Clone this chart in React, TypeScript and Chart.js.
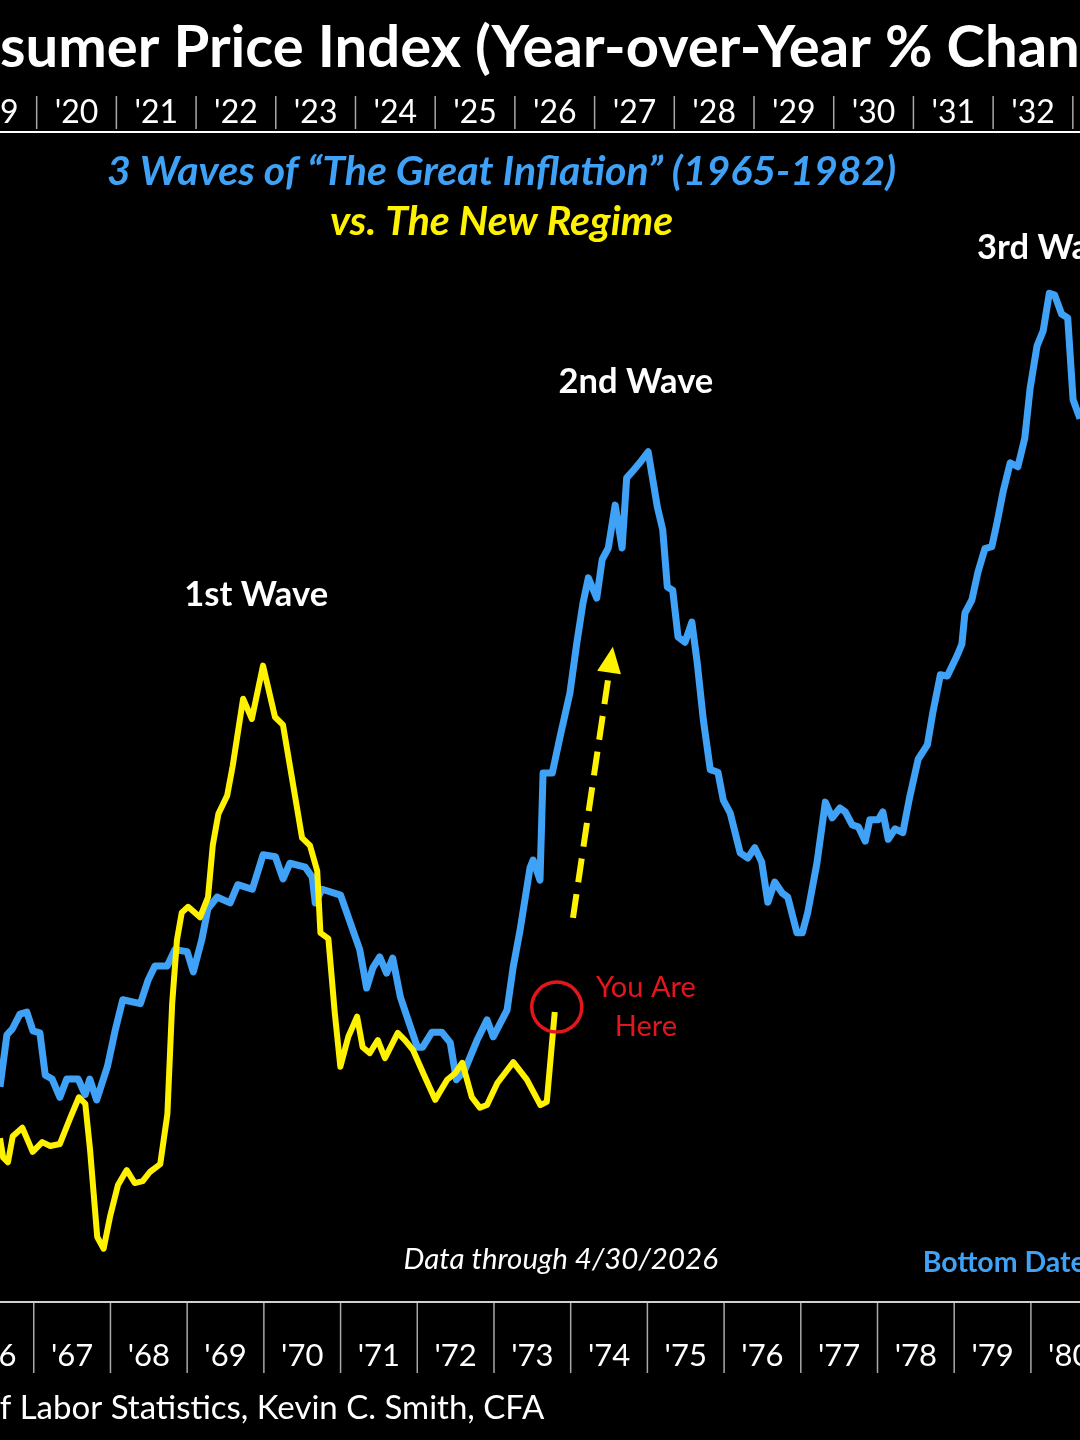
import { useEffect, useRef } from 'react'
import { Chart, registerables, Plugin } from 'chart.js'

Chart.register(...registerables)

// CPI year-over-year %, 1966-1980 (bottom axis)
const greatInflationDates = [
  1966.56, 1966.65, 1966.72, 1966.82, 1966.91, 1966.99, 1967.08, 1967.15, 1967.24, 1967.34,
  1967.43, 1967.58, 1967.67, 1967.73, 1967.82, 1967.96, 1968.06, 1968.16, 1968.39, 1968.49,
  1968.58, 1968.74, 1968.84, 1969.0, 1969.08, 1969.19, 1969.27, 1969.39, 1969.56, 1969.66,
  1969.85, 1969.99, 1970.15, 1970.25, 1970.34, 1970.54, 1970.63, 1970.67, 1970.76, 1971.0,
  1971.25, 1971.34, 1971.42, 1971.51, 1971.6, 1971.68, 1971.78, 1971.88, 1972.0, 1972.07,
  1972.19, 1972.32, 1972.43, 1972.51, 1972.62, 1972.78, 1972.91, 1972.99, 1973.17, 1973.25,
  1973.34, 1973.47, 1973.51, 1973.6, 1973.64, 1973.76, 1973.86, 1973.99, 1974.08, 1974.16,
  1974.23, 1974.34, 1974.41, 1974.49, 1974.58, 1974.67, 1974.73, 1974.8, 1974.9, 1975.01,
  1975.13, 1975.2, 1975.26, 1975.33, 1975.4, 1975.49, 1975.58, 1975.65, 1975.73, 1975.82,
  1975.92, 1975.99, 1976.08, 1976.21, 1976.31, 1976.4, 1976.49, 1976.57, 1976.66, 1976.76,
  1976.83, 1976.95, 1977.02, 1977.09, 1977.21, 1977.32, 1977.41, 1977.51, 1977.58, 1977.67,
  1977.75, 1977.84, 1977.9, 1978.01, 1978.07, 1978.14, 1978.23, 1978.33, 1978.42, 1978.53,
  1978.65, 1978.72, 1978.82, 1978.91, 1979.04, 1979.1, 1979.14, 1979.23, 1979.31, 1979.4,
  1979.49, 1979.56, 1979.64, 1979.73, 1979.83, 1979.92, 1979.99, 1980.08, 1980.16, 1980.24,
  1980.31, 1980.4, 1980.48, 1980.55, 1980.64,
]
const greatInflationValues = [
  2.54, 3.34, 3.43, 3.66, 3.69, 3.4, 3.37, 2.72, 2.66, 2.38,
  2.66, 2.66, 2.42, 2.66, 2.34, 2.85, 3.4, 3.88, 3.82, 4.18,
  4.4, 4.4, 4.65, 4.62, 4.31, 4.8, 5.28, 5.46, 5.37, 5.65,
  5.58, 6.11, 6.08, 5.74, 5.98, 5.92, 5.77, 5.37, 5.58, 5.49,
  4.65, 4.06, 4.37, 4.54, 4.29, 4.52, 3.92, 3.57, 3.15, 3.15,
  3.38, 3.38, 3.22, 2.65, 2.8, 3.26, 3.57, 3.31, 3.72, 4.38,
  4.95, 5.91, 6.03, 5.72, 7.37, 7.37, 7.92, 8.6, 9.37, 9.98,
  10.37, 10.06, 10.65, 10.83, 11.49, 10.83, 11.91, 12.0, 12.14, 12.31,
  11.46, 11.11, 10.23, 10.18, 9.46, 9.38, 9.69, 9.06, 8.18, 7.42,
  7.38, 6.95, 6.75, 6.14, 6.06, 6.22, 6.0, 5.38, 5.69, 5.52,
  5.46, 4.91, 4.91, 5.22, 5.98, 6.92, 6.68, 6.83, 6.77, 6.57,
  6.54, 6.32, 6.65, 6.65, 6.77, 6.35, 6.51, 6.45, 7.0, 7.58,
  7.8, 8.29, 8.88, 8.86, 9.18, 9.35, 9.83, 10.03, 10.46, 10.82,
  10.85, 11.23, 11.71, 12.14, 12.08, 12.52, 13.29, 13.94, 14.17, 14.75,
  14.72, 14.43, 14.37, 13.11, 12.82,
]

// CPI year-over-year %, 2019-2026 (top axis)
const newRegimeDates = [
  2019.54, 2019.58, 2019.64, 2019.7, 2019.82, 2019.95, 2020.07, 2020.17, 2020.29, 2020.42,
  2020.53, 2020.61, 2020.67, 2020.76, 2020.84, 2020.92, 2021.02, 2021.13, 2021.23, 2021.33,
  2021.42, 2021.55, 2021.64, 2021.7, 2021.76, 2021.82, 2021.9, 2022.05, 2022.15, 2022.21,
  2022.28, 2022.39, 2022.46, 2022.59, 2022.7, 2022.84, 2022.99, 2023.09, 2023.22, 2023.33,
  2023.43, 2023.52, 2023.56, 2023.66, 2023.74, 2023.81, 2023.91, 2024.02, 2024.09, 2024.18,
  2024.28, 2024.37, 2024.53, 2024.62, 2024.72, 2024.85, 2025.0, 2025.15, 2025.25, 2025.34,
  2025.46, 2025.56, 2025.65, 2025.78, 2025.98, 2026.15, 2026.32, 2026.4, 2026.5,
]
const newRegimeValues = [
  1.75, 1.45, 1.38, 1.78, 1.91, 1.54, 1.69, 1.63, 1.66, 2.06,
  2.38, 2.28, 1.57, 0.23, 0.05, 0.54, 1.03, 1.26, 1.06, 1.09,
  1.23, 1.35, 2.12, 3.82, 4.8, 5.22, 5.31, 5.15, 5.46, 6.26,
  6.74, 7.02, 7.48, 8.51, 8.2, 9.02, 8.23, 8.11, 7.17, 6.37,
  6.25, 5.86, 4.91, 4.82, 3.68, 2.85, 3.31, 3.62, 3.15, 3.06,
  3.26, 2.98, 3.37, 3.26, 3.11, 2.75, 2.34, 2.65, 2.75, 2.91,
  2.38, 2.22, 2.26, 2.6, 2.92, 2.65, 2.26, 2.31, 3.69,
]

const bottomAxisYears = [1966, 1967, 1968, 1969, 1970, 1971, 1972, 1973, 1974, 1975, 1976, 1977, 1978, 1979, 1980]
const topAxisYears = [2019, 2020, 2021, 2022, 2023, 2024, 2025, 2026, 2027, 2028, 2029, 2030, 2031, 2032, 2033]

const TITLE = 'Consumer Price Index (Year-over-Year % Change)'
const SOURCE = 'Source: Bureau of Labor Statistics, Kevin C. Smith, CFA'

// text anchored in bottom-axis years / percent
const waveLabels = [
  { text: '1st Wave', year: 1969.9, value: 10.11 },
  { text: '2nd Wave', year: 1974.85, value: 13.38 },
  { text: '3rd Wave', year: 1980.26, value: 15.45 },
]

const BLUE = '#3fa2f6'
const YELLOW = '#fff200'
const RED = '#e3161c'

const shortYear = (v: number) => `'${String(Math.floor(v)).slice(2)}`

const overlayPlugin: Plugin<'line'> = {
  id: 'overlay',
  afterDraw(chart) {
    const { ctx, scales } = chart
    const xb = scales.xBottom
    const xt = scales.xTop
    const y = scales.y
    const w = chart.width
    ctx.save()

    // title, cropped at the left like the original
    ctx.fillStyle = '#fff'
    ctx.textBaseline = 'middle'
    ctx.textAlign = 'left'
    ctx.font = 'bold 58px Lato'
    ctx.fillText(TITLE, -ctx.measureText('Con').width, 48)

    // year separators on both axes
    ctx.strokeStyle = '#a8a8a8'
    ctx.lineWidth = 1.5
    for (let yr = topAxisYears[0]; yr <= topAxisYears[topAxisYears.length - 1] + 1; yr++) {
      const px = xt.getPixelForValue(yr)
      if (px < 0 || px > w) continue
      ctx.beginPath()
      ctx.moveTo(px, xt.top + 1)
      ctx.lineTo(px, xt.bottom - 3)
      ctx.stroke()
    }
    for (let yr = bottomAxisYears[0]; yr <= bottomAxisYears[bottomAxisYears.length - 1] + 1; yr++) {
      const px = xb.getPixelForValue(yr)
      if (px < 0 || px > w) continue
      ctx.beginPath()
      ctx.moveTo(px, xb.top + 1)
      ctx.lineTo(px, xb.top + 71)
      ctx.stroke()
    }

    // headings
    ctx.textAlign = 'center'
    ctx.font = 'italic bold 41px Lato'
    ctx.fillStyle = BLUE
    ctx.fillText('3 Waves of \u201cThe Great Inflation\u201d (1965-1982)', xb.getPixelForValue(1973.1), y.getPixelForValue(16.62))
    ctx.fillStyle = YELLOW
    ctx.fillText('vs. The New Regime', xb.getPixelForValue(1973.1), y.getPixelForValue(15.85))

    ctx.fillStyle = '#fff'
    ctx.font = 'bold 34.5px Lato'
    waveLabels.forEach((l) => {
      ctx.fillText(l.text, xb.getPixelForValue(l.year), y.getPixelForValue(l.value))
    })

    // dashed arrow
    const tx = xb.getPixelForValue(1974.03)
    const ty = y.getPixelForValue(5.14)
    const hx = xb.getPixelForValue(1974.55)
    const hy = y.getPixelForValue(9.31)
    const len = Math.hypot(hx - tx, hy - ty)
    const ux = (hx - tx) / len
    const uy = (hy - ty) / len
    const headLen = 26
    const bx = hx - ux * headLen
    const by = hy - uy * headLen
    ctx.strokeStyle = YELLOW
    ctx.lineWidth = 6
    ctx.setLineDash([24, 12])
    ctx.beginPath()
    ctx.moveTo(tx, ty)
    ctx.lineTo(bx, by)
    ctx.stroke()
    ctx.setLineDash([])
    ctx.fillStyle = YELLOW
    ctx.beginPath()
    ctx.moveTo(hx, hy)
    ctx.lineTo(bx - uy * 12, by + ux * 12)
    ctx.lineTo(bx + uy * 12, by - ux * 12)
    ctx.closePath()
    ctx.fill()

    // you are here
    const last = newRegimeDates.length - 1
    const cx = xt.getPixelForValue(newRegimeDates[last])
    const cy = y.getPixelForValue(newRegimeValues[last])
    ctx.strokeStyle = RED
    ctx.lineWidth = 3.5
    ctx.beginPath()
    ctx.arc(cx + 2, cy - 5, 25, 0, Math.PI * 2)
    ctx.stroke()
    ctx.fillStyle = RED
    ctx.font = '29px Lato'
    ctx.fillText('You Are', xb.getPixelForValue(1974.98), y.getPixelForValue(4.06))
    ctx.fillText('Here', xb.getPixelForValue(1974.98), y.getPixelForValue(3.46))

    // footnotes
    ctx.fillStyle = '#fff'
    ctx.font = 'italic 29.5px Lato'
    ctx.fillText('Data through 4/30/2026', xb.getPixelForValue(1973.87), y.getPixelForValue(-0.12))
    ctx.textAlign = 'left'
    ctx.fillStyle = BLUE
    ctx.font = 'bold 28.5px Lato'
    ctx.fillText('Bottom Dates', xb.getPixelForValue(1978.59), y.getPixelForValue(-0.17))

    ctx.fillStyle = '#fff'
    ctx.font = '33px Lato'
    ctx.fillText(SOURCE, -ctx.measureText('Source: Bureau o').width, 1408)

    ctx.restore()
  },
}

export default function App() {
  const canvasRef = useRef<HTMLCanvasElement | null>(null)

  useEffect(() => {
    let chart: Chart<'line'> | null = null
    if (canvasRef.current) {
      chart = new Chart(canvasRef.current, {
        type: 'line',
        data: {
          datasets: [
            {
              label: 'New Regime',
              data: newRegimeDates.map((d, i) => ({ x: d, y: newRegimeValues[i] })),
              xAxisID: 'xTop',
              yAxisID: 'y',
              borderColor: YELLOW,
              borderWidth: 6,
              borderJoinStyle: 'round',
              pointRadius: 0,
              tension: 0,
            },
            {
              label: 'The Great Inflation',
              data: greatInflationDates.map((d, i) => ({ x: d, y: greatInflationValues[i] })),
              xAxisID: 'xBottom',
              yAxisID: 'y',
              borderColor: BLUE,
              borderWidth: 7,
              borderJoinStyle: 'round',
              pointRadius: 0,
              tension: 0,
            },
          ],
        },
        options: {
          animation: false,
          responsive: true,
          maintainAspectRatio: false,
          layout: { padding: { top: 95, bottom: 60, left: 0, right: 0 } },
          plugins: {
            legend: { display: false },
            tooltip: { enabled: false },
            title: { display: false },
          },
          scales: {
            xBottom: {
              type: 'linear',
              position: 'bottom',
              min: 1966.56,
              max: 1980.64,
              afterBuildTicks: (s) => {
                s.ticks = bottomAxisYears.map((yr) => ({ value: yr + 0.5 }))
              },
              afterFit: (s) => {
                s.height = 78
                s.paddingLeft = 0
                s.paddingRight = 0
              },
              ticks: {
                autoSkip: false,
                maxRotation: 0,
                minRotation: 0,
                padding: 35,
                color: '#fff',
                font: { family: 'Lato', size: 31 },
                callback: (v) => shortYear(Number(v)),
              },
              grid: { display: false, drawTicks: false },
              border: { display: true, color: '#d0d0d0', width: 2 },
            },
            xTop: {
              type: 'linear',
              position: 'top',
              min: 2019.54,
              max: 2033.09,
              afterBuildTicks: (s) => {
                s.ticks = topAxisYears.map((yr) => ({ value: yr + 0.5 }))
              },
              afterFit: (s) => {
                s.height = 37
                s.paddingLeft = 0
                s.paddingRight = 0
              },
              ticks: {
                autoSkip: false,
                maxRotation: 0,
                minRotation: 0,
                padding: 0,
                color: '#fff',
                font: { family: 'Lato', size: 32 },
                callback: (v) => shortYear(Number(v)),
              },
              grid: { display: false, drawTicks: false },
              border: { display: true, color: '#ffffff', width: 2 },
            },
            y: { display: false, min: -0.77, max: 17.23 },
          },
        },
        plugins: [overlayPlugin],
      })
    }
    return () => {
      if (chart) chart.destroy()
    }
  }, [])

  return (
    <div
      style={{
        position: 'fixed',
        left: 0,
        top: 0,
        width: 1080,
        height: 1440,
        background: '#000',
        overflow: 'hidden',
      }}
    >
      <canvas ref={canvasRef} />
    </div>
  )
}
